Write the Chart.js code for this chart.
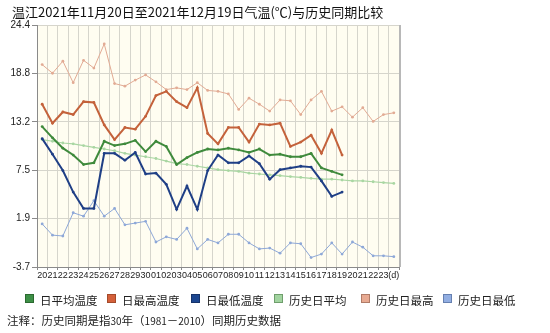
<!DOCTYPE html>
<html>
<head>
<meta charset="utf-8">
<script src="https://cdn.jsdelivr.net/npm/chart.js@4.4.1/dist/chart.umd.min.js"></script>
<style>
  html, body { margin: 0; padding: 0; background: #ffffff; }
  #wrap { position: relative; width: 550px; height: 333px; overflow: hidden; }
  #chart { position: absolute; left: 0; top: 0; }
  .title { position: absolute; left: 12px; top: 2px; font: 13px "Noto Sans CJK SC", sans-serif; color: #111; white-space: nowrap; }
  .legend { position: absolute; top: 292px; font: 11.5px "Noto Sans CJK SC", sans-serif; color: #222; white-space: nowrap; }
  .legend i { position: absolute; top: 2px; width: 9px; height: 9px; box-sizing: border-box; border: 1px solid; }
  .note { position: absolute; left: 7px; top: 312px; font: 11.5px "Noto Sans CJK SC", sans-serif; color: #222; white-space: nowrap; }
  .note span { font-size: 10px; }
</style>
</head>
<body>
<div id="wrap">
  <canvas id="chart" width="550" height="333"></canvas>
  <div class="title">温江2021年11月20日至2021年12月19日气温(℃)与历史同期比较</div>
  <div id="legend"></div>
  <div class="note">注释：历史同期是指<span>30</span>年（<span>1981</span>－<span>2010</span>）同期历史数据</div>
</div>
<script>
// Day-of-month labels, 20 Nov to 24 Dec; the last slot carries the unit
const dayLabels = ['20','21','22','23','24','25','26','27','28','29','30',
  '01','02','03','04','05','06','07','08','09','10','11','12','13','14','15',
  '16','17','18','19','20','21','22','23','(d)'];

// Observed daily temperatures, 20 Nov – 19 Dec 2021 (°C)
const dailyMean = [12.6, 11.3, 10.1, 9.3, 8.2, 8.4, 10.9, 10.4, 10.6, 11.0,
  9.7, 10.9, 10.3, 8.2, 9.0, 9.6, 10.0, 9.9, 10.1, 9.9,
  9.6, 10.0, 9.3, 9.4, 9.1, 9.1, 9.5, 7.8, 7.4, 7.0];
const dailyMax = [15.2, 13.0, 14.3, 14.0, 15.5, 15.4, 12.8, 11.1, 12.5, 12.3,
  13.8, 16.2, 16.7, 15.5, 14.8, 17.1, 11.8, 10.6, 12.5, 12.5,
  10.8, 12.9, 12.8, 13.0, 10.3, 10.8, 11.6, 9.5, 12.2, 9.3];
const dailyMin = [11.2, 9.4, 7.5, 5.0, 3.1, 3.1, 9.5, 9.5, 8.7, 9.6,
  7.1, 7.2, 5.9, 3.0, 5.7, 3.0, 7.5, 9.3, 8.4, 8.4,
  9.2, 8.3, 6.5, 7.6, 7.8, 8.0, 7.9, 6.3, 4.5, 5.0];

// 1981–2010 climatology for the same days (°C)
const histMean = [11.1, 10.9, 10.7, 10.6, 10.4, 10.2, 10.0, 9.8, 9.5, 9.3,
  9.1, 8.9, 8.6, 8.3, 8.2, 8.0, 7.8, 7.6, 7.5, 7.4,
  7.2, 7.1, 7.0, 6.9, 6.8, 6.7, 6.6, 6.5, 6.5, 6.4,
  6.3, 6.3, 6.2, 6.1, 6.0];
const histMax = [19.8, 18.8, 20.2, 17.7, 20.3, 19.4, 22.2, 17.6, 17.3, 18.0,
  18.6, 17.8, 16.9, 17.1, 16.9, 17.7, 16.8, 16.7, 16.4, 14.6,
  15.9, 15.2, 14.4, 15.7, 15.6, 14.0, 15.7, 16.7, 14.4, 14.9,
  13.7, 14.8, 13.2, 14.0, 14.2];
const histMin = [1.3, 0.0, -0.1, 2.6, 2.2, 4.0, 2.2, 3.1, 1.2, 1.4,
  1.6, -0.8, -0.2, -0.5, 0.8, -1.6, -0.5, -0.9, 0.1, 0.1,
  -0.9, -1.6, -1.5, -2.1, -0.9, -1.0, -2.6, -2.2, -0.9, -2.2,
  -0.8, -1.4, -2.4, -2.4, -2.5];

// Temperature axis ticks
const yTickValues = [-3.7, 1.92, 7.54, 13.16, 18.78, 24.4];

const series = [
  { name: '日平均温度', data: dailyMean, line: '#3f8a3c', box: '#3d8f46', edge: '#2b6a30', width: 2 },
  { name: '日最高温度', data: dailyMax,  line: '#c4623b', box: '#d4603a', edge: '#a44a2a', width: 2 },
  { name: '日最低温度', data: dailyMin,  line: '#1f3f86', box: '#1c4690', edge: '#16336a', width: 2 },
  { name: '历史日平均', data: histMean,  line: '#a9d6a2', box: '#a2d4a0', edge: '#6f9e6c', width: 1.2 },
  { name: '历史日最高', data: histMax,   line: '#e2ab94', box: '#e8aa92', edge: '#b07c68', width: 1 },
  { name: '历史日最低', data: histMin,   line: '#8ea8d8', box: '#92aee2', edge: '#6680b0', width: 1 }
];

// HTML legend row
const legendX = [25, 107, 191, 274, 361, 443];
const legend = document.getElementById('legend');
series.forEach((s, k) => {
  const d = document.createElement('div');
  d.className = 'legend';
  d.style.left = legendX[k] + 'px';
  d.innerHTML = '<i style="left:0;background:' + s.box + ';border-color:' + s.edge + '"></i>' +
                '<span style="margin-left:15px">' + s.name + '</span>';
  legend.appendChild(d);
});

// Cream plot background and right frame line
const plotFrame = {
  id: 'plotFrame',
  beforeDraw(chart) {
    const a = chart.chartArea, c = chart.ctx;
    c.save();
    c.fillStyle = '#fffdf1';
    c.fillRect(a.left, a.top, a.right - a.left, a.bottom - a.top);
    c.restore();
  },
  afterDraw(chart) {
    const a = chart.chartArea, c = chart.ctx;
    c.save();
    c.strokeStyle = '#b8b8b8';
    c.lineWidth = 2;
    c.beginPath();
    c.moveTo(a.right + 1, a.top);
    c.lineTo(a.right + 1, a.bottom);
    c.stroke();
    c.restore();
  }
};

new Chart(document.getElementById('chart'), {
  type: 'line',
  data: {
    labels: dayLabels,
    datasets: series.map(s => ({
      label: s.name,
      data: s.data,
      borderColor: s.line,
      backgroundColor: s.line,
      borderWidth: s.width,
      pointRadius: 1.4,
      pointBorderWidth: 0,
      pointBackgroundColor: s.line,
      tension: 0,
      fill: false
    }))
  },
  options: {
    responsive: false,
    animation: false,
    devicePixelRatio: 1,
    layout: { padding: { left: 0, top: 25, right: 151, bottom: 0 } },
    plugins: { legend: { display: false }, title: { display: false }, tooltip: { enabled: false } },
    scales: {
      x: {
        offset: true,
        grid: { offset: true, color: '#d6d5cc', lineWidth: 1, tickLength: 3, tickColor: '#8a8a8a' },
        border: { color: '#8a8a8a', width: 1 },
        ticks: {
          autoSkip: false, maxRotation: 0, minRotation: 0, padding: 0,
          color: '#222', font: { family: 'Liberation Sans, Arial', size: 9 }
        },
        afterFit(scale) { scale.height = 66; }
      },
      y: {
        min: -3.7, max: 24.4,
        afterBuildTicks(scale) { scale.ticks = yTickValues.map(v => ({ value: v })); },
        grid: { color: '#d6d5cc', lineWidth: 1, tickLength: 5, tickColor: '#8a8a8a' },
        border: { color: '#8a8a8a', width: 1 },
        ticks: {
          padding: 2, color: '#222',
          font: { family: 'Liberation Sans, Arial', size: 10 },
          callback: v => Number(v).toFixed(1)
        },
        afterFit(scale) { scale.width = 37; }
      }
    }
  },
  plugins: [plotFrame]
});
</script>
</body>
</html>
